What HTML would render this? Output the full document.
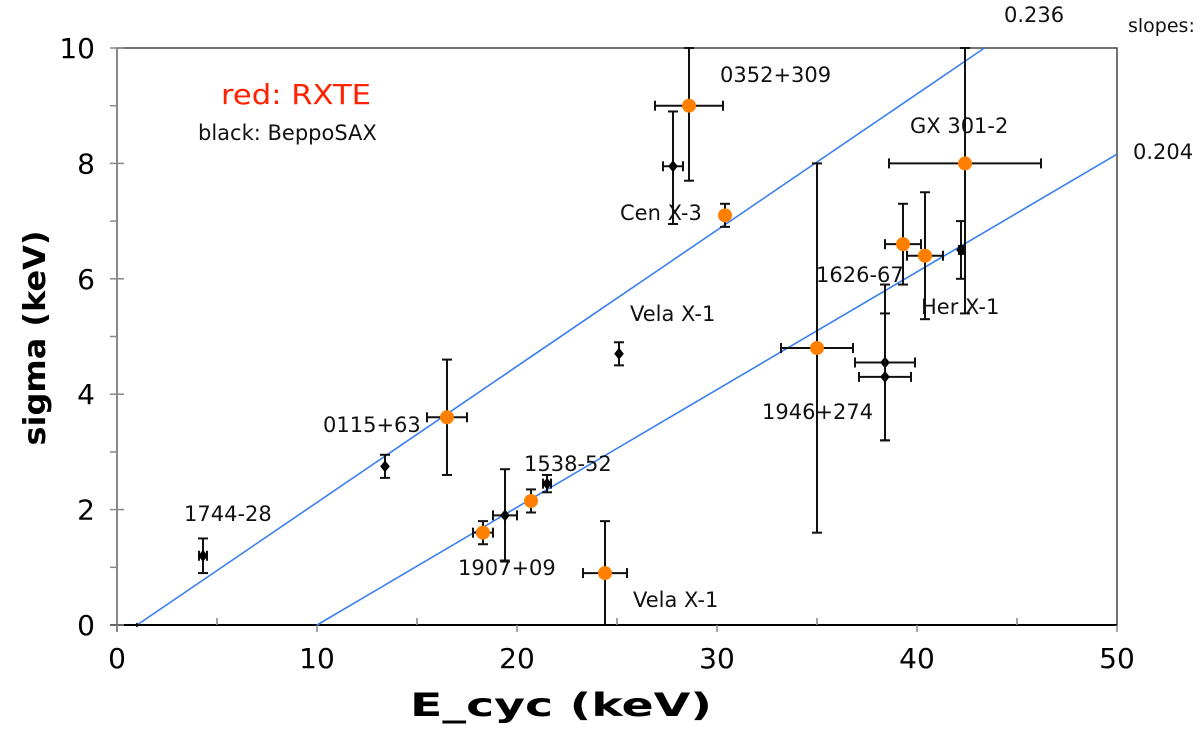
<!DOCTYPE html>
<html><head><meta charset="utf-8"><style>
body{margin:0;background:#fff;}
svg text{font-family:"DejaVu Sans","Liberation Sans",sans-serif;}
</style></head><body>
<svg id="c" width="1200" height="726" xmlns="http://www.w3.org/2000/svg">
<rect x="117" y="48" width="1000" height="577" fill="none" stroke="#444" stroke-width="1.5"/>
<g id="axes"></g>
<g id="lines"></g>
<g id="marks"></g>
<g id="labels" font-size="21" fill="#111">
<text x="720" y="82">0352+309</text>
<text x="910" y="133">GX 301-2</text>
<text x="620" y="220">Cen X-3</text>
<text x="816" y="282">1626-67</text>
<text x="921" y="314">Her X-1</text>
<text x="630" y="321">Vela X-1</text>
<text x="762" y="419">1946+274</text>
<text x="323" y="432">0115+63</text>
<text x="524" y="471">1538-52</text>
<text x="184" y="521">1744-28</text>
<text x="458" y="575">1907+09</text>
<text x="633" y="607">Vela X-1</text>
<text x="1004" y="22">0.236</text>
<text x="1133" y="159">0.204</text>
<text x="1128" y="32" font-size="19">slopes:</text>
<text x="221" y="104" font-size="28" textLength="150" lengthAdjust="spacingAndGlyphs" fill="#ff2200">red: RXTE</text>
<text x="198" y="140" font-size="21">black: BeppoSAX</text>
</g>
<text x="410" y="716" font-size="32" font-weight="bold" textLength="302" lengthAdjust="spacingAndGlyphs">E_cyc (keV)</text>
<text transform="translate(45,338) rotate(-90)" text-anchor="middle" font-size="30" font-weight="bold" textLength="215" lengthAdjust="spacingAndGlyphs">sigma (keV)</text>
</svg>
<script>
const xTicks=[0,10,20,30,40,50];
const yTicks=[0,2,4,6,8,10];
const rxteX=[16.5,18.3,20.7,24.4,28.6,30.4,35,39.3,40.4,42.4];
const rxteY=[3.6,1.6,2.15,0.9,9.0,7.1,4.8,6.6,6.4,8.0];
const rxteXerr=[1.0,0.5,0,1.1,1.7,0.2,1.8,0.9,0.9,3.8];
const rxteYlo=[2.6,1.4,1.95,0,7.7,6.9,1.6,5.9,5.3,5.4];
const rxteYhi=[4.6,1.8,2.35,1.8,10,7.3,8.0,7.3,7.5,10];
const saxX=[1,4.3,13.4,19.4,21.5,25.1,27.8,38.4,38.4,42.2];
const saxY=[0,1.2,2.75,1.9,2.45,4.7,7.95,4.55,4.3,6.5];
const saxXerr=[0,0.2,0,0.6,0.2,0,0.5,1.5,1.3,0.1];
const saxYlo=[0,0.9,2.55,1.1,2.3,4.5,6.95,3.2,3.2,6.0];
const saxYhi=[0,1.5,2.95,2.7,2.6,4.9,8.9,5.9,5.4,7.0];
const fitX0=[1,10];
const fitSlope=[0.236,0.204];
const NS='http://www.w3.org/2000/svg';
const X=v=>117+v*20, Y=v=>625-v*57.7;
function mk(g,t,a){const e=document.createElementNS(NS,t);for(const k in a)e.setAttribute(k,a[k]);document.getElementById(g).appendChild(e);return e;}
function ln(g,x1,y1,x2,y2,s,w){return mk(g,'line',{x1,y1,x2,y2,stroke:s,'stroke-width':w});}
let l=ln('axes',117,48,117,632,'#888',2);


l=ln('axes',110,625,1117,625,'#000',2);


for(let i=0;i<=10;i++){ln('axes',110,Y(i),i%2?117:124,Y(i),'#888',1.5);}
for(let i=0;i<=10;i++){ln('axes',X(i*5),625,X(i*5),i%2?618:632,'#888',1.5);}
yTicks.forEach(v=>{const t=mk('axes','text',{x:95,y:Y(v)+10,'text-anchor':'end','font-size':28});t.textContent=v;

});
xTicks.forEach(v=>{const t=mk('axes','text',{x:X(v),y:668,'text-anchor':'middle','font-size':28});t.textContent=v;

});
fitX0.forEach((x0,i)=>{let x1=Math.min(50,x0+10/fitSlope[i]);
const e=ln('lines',X(x0),Y(0),X(x1),Y((x1-x0)*fitSlope[i]),'#3a7ff0',1.6);

});
function err(x,y,xe,lo,hi){
 const c=5;
 if(hi>lo){ln('marks',X(x),Y(Math.min(hi,10)),X(x),Y(lo),'#111',2);
  if(hi<=10)ln('marks',X(x)-c,Y(hi),X(x)+c,Y(hi),'#111',2);
  if(lo>0)ln('marks',X(x)-c,Y(lo),X(x)+c,Y(lo),'#111',2);}
 if(xe>0){ln('marks',X(x-xe),Y(y),X(x+xe),Y(y),'#111',2);
  ln('marks',X(x-xe),Y(y)-c,X(x-xe),Y(y)+c,'#111',2);ln('marks',X(x+xe),Y(y)-c,X(x+xe),Y(y)+c,'#111',2);}
}
saxX.forEach((x,i)=>{err(x,saxY[i],saxXerr[i],saxYlo[i],saxYhi[i]);
 const r=i==0?2.5:6;
 const p=mk('marks','path',{d:`M${X(x)} ${Y(saxY[i])-r}L${X(x)+r*0.8} ${Y(saxY[i])}L${X(x)} ${Y(saxY[i])+r}L${X(x)-r*0.8} ${Y(saxY[i])}Z`,fill:'#000'});
 
 });
rxteX.forEach((x,i)=>{err(x,rxteY[i],rxteXerr[i],rxteYlo[i],rxteYhi[i]);
 const p=mk('marks','circle',{cx:X(x),cy:Y(rxteY[i]),r:7,fill:'#ff8000'});
 
 });
</script>
</body></html>
